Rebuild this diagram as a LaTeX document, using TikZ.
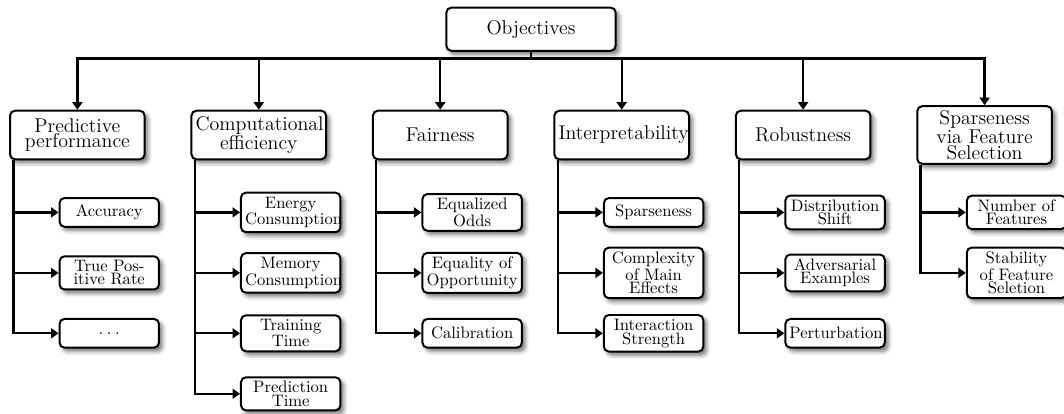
\documentclass[tikz,border=0pt]{standalone}
\usetikzlibrary{arrows.meta,shadows.blur}
\begin{document}
\begin{tikzpicture}[x=0.6024pt,y=-0.6024pt,
  box/.style={draw=black, line width=1.2pt, rounded corners=3pt, fill=white,
    blur shadow={shadow xshift=2pt, shadow yshift=-2.2pt, shadow blur radius=2.5pt, shadow opacity=55},
    inner sep=2.5pt, align=center},
  rootbox/.style={box, font=\fontsize{12}{1}\selectfont, minimum width=102pt, minimum height=26pt},
  catbox/.style={box, font=\fontsize{12}{1}\selectfont, text width=76.1pt, minimum height=29.3pt},
  leafbox/.style={box, font=\fontsize{10}{1}\selectfont, text width=54.9pt, minimum height=17.3pt},
  conn/.style={line width=1.4pt, -{Triangle[length=4.5pt,width=6pt]}},
]
\useasboundingbox (0,0) rectangle (1064,414);

\node[rootbox] (root) at (531,29.2) {Objectives};

\node[catbox] (c1) at (77.35,135) {Predictive\\performance};
\node[catbox] (c2) at (258.8,135) {Computational\\efficiency};
\node[catbox] (c3) at (440.25,135) {Fairness};
\node[catbox] (c4) at (621.7,135) {Interpretability};
\node[catbox] (c5) at (803.15,135) {Robustness};
\node[catbox] (c6) at (984.6,135) {Sparseness\\via Feature\\Selection};

\foreach \c in {c1,c2,c3,c4,c5,c6}
  \draw[conn] (root.south) -- ++(0,6.8) -| (\c.north);

% Predictive performance
\node[leafbox] (a1) at (109.25,212.4) {Accuracy};
\node[leafbox] (a2) at (109.25,272.9) {True Pos-\\itive Rate};
\node[leafbox] (a3) at (109.25,333.3) {.\kern2.2pt.\kern2.2pt.};
% Computational efficiency
\node[leafbox] (b1) at (290.7,212.4) {Energy\\Consumption};
\node[leafbox] (b2) at (290.7,272.9) {Memory\\Consumption};
\node[leafbox] (b3) at (290.7,333.3) {Training\\Time};
\node[leafbox] (b4) at (290.7,393.8) {Prediction\\Time};
% Fairness
\node[leafbox] (f1) at (472.15,212.4) {Equalized\\Odds};
\node[leafbox] (f2) at (472.15,272.9) {Equality of\\Opportunity};
\node[leafbox] (f3) at (472.15,333.3) {Calibration};
% Interpretability
\node[leafbox] (i1) at (653.6,212.4) {Sparseness};
\node[leafbox] (i2) at (653.6,272.9) {Complexity\\of Main\\Effects};
\node[leafbox] (i3) at (653.6,333.3) {Interaction\\Strength};
% Robustness
\node[leafbox] (r1) at (835.05,212.4) {Distribution\\Shift};
\node[leafbox] (r2) at (835.05,272.9) {Adversarial\\Examples};
\node[leafbox] (r3) at (835.05,333.3) {Perturbation};
% Sparseness via feature selection
\node[leafbox] (s1) at (1016.5,212.4) {Number of\\Features};
\node[leafbox] (s2) at (1016.5,272.9) {Stability\\of Feature\\Seletion};

\foreach \p/\l in {c1/a1,c1/a2,c1/a3,c2/b1,c2/b2,c2/b3,c2/b4,c3/f1,c3/f2,c3/f3,c4/i1,c4/i2,c4/i3,c5/r1,c5/r2,c5/r3,c6/s1,c6/s2}
  \draw[conn] ([xshift=2.6pt]\p.south west) |- (\l.west);
\end{tikzpicture}
\end{document}
